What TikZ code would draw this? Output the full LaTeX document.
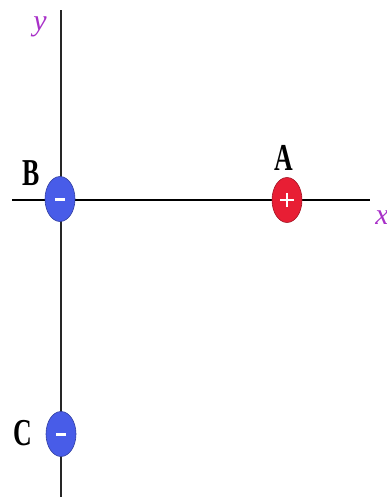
\documentclass[tikz,border=0pt]{standalone}
\usepackage{fontspec}
\setmainfont{Liberation Serif}
\usetikzlibrary{shapes.geometric}
\definecolor{negblue}{RGB}{72,92,232}
\definecolor{posred}{RGB}{232,30,52}
\definecolor{axpurple}{RGB}{168,48,200}
\begin{document}
\begin{tikzpicture}[x=1pt,y=-1pt,
  charge/.style={ellipse, minimum width=30pt, minimum height=45pt, inner sep=0pt, draw=#1!70!black, line width=0.6pt, fill=#1},
  ptlabel/.style={font=\fontsize{38}{38}\bfseries\selectfont, xscale=0.68, inner sep=0pt},
  axlabel/.style={font=\fontsize{30}{30}\itshape\selectfont, text=axpurple, inner sep=0pt}]
\useasboundingbox (0,0) rectangle (387,501);
\coordinate (yt) at (61,10);
\coordinate (yb) at (61,497);
\coordinate (xl) at (12,200);
\coordinate (xr) at (370,200);
\draw[line width=1.8pt, black!85] (yt) -- (yb);
\draw[line width=2.8pt] (xl) -- (xr);
\node[charge=negblue] (B) at (60,199) {};
\node[charge=posred] (A) at (287,200) {};
\node[charge=negblue] (C) at (61,434) {};
\draw[white, line width=3pt] ([xshift=-5pt]B.center) -- ([xshift=5pt]B.center);
\draw[white, line width=3pt] ([xshift=-5pt]C.center) -- ([xshift=5pt]C.center);
\draw[white, line width=2.5pt] ([xshift=-7pt]A.center) -- ([xshift=7pt]A.center);
\draw[white, line width=2.5pt] ([yshift=-7pt]A.center) -- ([yshift=7pt]A.center);
\node[ptlabel] (lB) at (31,173) {B};
\node[ptlabel] (lA) at (284,158) {A};
\node[ptlabel] (lC) at (23,433) {C};
\node[axlabel] (ly) at (40,27) {y};
\node[axlabel] (lx) at (382,218) {x};
\end{tikzpicture}
\end{document}
